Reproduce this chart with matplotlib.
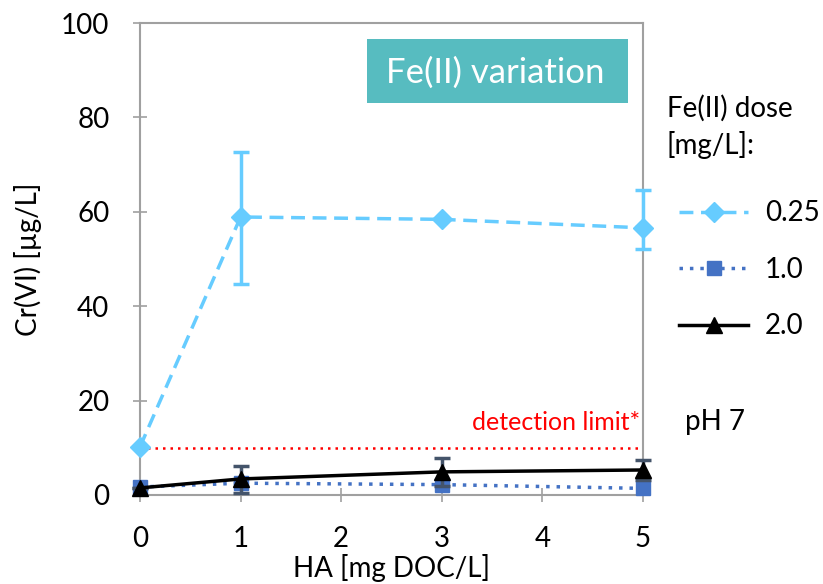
import matplotlib.pyplot as plt
from matplotlib.lines import Line2D
from matplotlib.patches import Rectangle
import numpy as np

plt.rcParams['font.family'] = ['Lato', 'DejaVu Sans']

ha = [0, 1, 3, 5]

fe025 = [10.2, 58.9, 58.4, 56.6]
fe025_lo = [0, 14.2, 0, 4.4]
fe025_hi = [0, 13.8, 0, 8.0]

fe10 = [1.7, 2.5, 2.2, 1.4]

fe20 = [1.5, 3.4, 4.9, 5.3]
fe20_lo = [0, 3.0, 2.9, 2.1]
fe20_hi = [0, 2.7, 2.9, 2.1]

det_limit = 10

c025 = '#66CCFF'
c10 = '#4472C4'
c20 = 'black'

fig = plt.figure(figsize=(8.23, 5.84), dpi=100)
ax = fig.add_axes([0.1701, 0.1524, 0.6112, 0.8082])

ax.plot([0, 5], [det_limit, det_limit], color='red', ls=(0, (1, 2)), lw=1.8, zorder=2)
ax.text(4.97, 13.7, 'detection limit*', color='red', fontsize=18, ha='right', va='baseline')

e1 = ax.errorbar(ha, fe025, yerr=[fe025_lo, fe025_hi], color=c025, ls=(0, (4, 2.2)), lw=2.5,
                 marker='D', ms=10, capsize=6, capthick=2.5, elinewidth=2.5, zorder=3)
l2, = ax.plot(ha, fe10, color=c10, ls=(0, (1, 2)), lw=2.5, marker='s', ms=10, zorder=4)
e3 = ax.errorbar(ha, fe20, yerr=[fe20_lo, fe20_hi], color=c20, ecolor='#44546A', ls='-', lw=2.5,
                 marker='^', ms=12, capsize=6, capthick=2.5, elinewidth=2.5, zorder=5)
for art in [e1.lines[0], l2, e3.lines[0]] + list(e1.lines[1]) + list(e3.lines[1]) \
        + list(e1.lines[2]) + list(e3.lines[2]):
    art.set_clip_on(False)

ax.set_xlim(0, 5)
ax.set_ylim(0, 100)
ax.set_xticks(np.arange(0, 6, 1))
ax.set_yticks(np.arange(0, 101, 20))
ax.tick_params(direction='inout', length=10, width=1.2, color='#A0A0A0', labelsize=20)
ax.tick_params(axis='y', pad=17)
ax.tick_params(axis='x', pad=17)
for s in ax.spines.values():
    s.set_color('#A0A0A0')
    s.set_linewidth(1.5)

ax.set_xlabel('HA [mg DOC/L]', fontsize=20, labelpad=2)
ax.set_ylabel('Cr(VI) [µg/L]', fontsize=20, labelpad=14)

ax.add_patch(Rectangle((0.4513, 0.8305), 0.5189, 0.1356, transform=ax.transAxes,
                       fc='#57BCC0', ec='none', zorder=1))
ax.text(0.7058, 0.895, 'Fe(II) variation', transform=ax.transAxes, fontsize=25,
        color='white', ha='center', va='center', zorder=2)

fig.text(0.810, 0.7997, 'Fe(II) dose', fontsize=20, ha='left', va='baseline')
fig.text(0.810, 0.7363, '[mg/L]:', fontsize=20, ha='left', va='baseline')
fig.text(0.8323, 0.2637, 'pH 7', fontsize=20, ha='left', va='baseline')

handles = [
    Line2D([], [], color=c025, ls=(0, (4, 2.2)), lw=2.5, marker='D', ms=10),
    Line2D([], [], color=c10, ls=(0, (1, 2)), lw=2.5, marker='s', ms=10),
    Line2D([], [], color=c20, ls='-', lw=2.5, marker='^', ms=12),
]
fig.legend(handles, ['0.25', '1.0', '2.0'], loc='center left',
           bbox_to_anchor=(0.808, 0.538), frameon=False, fontsize=20,
           handlelength=2.5, labelspacing=1.1, handletextpad=0.6, borderpad=0)

fig.savefig('out.png', dpi=100)
